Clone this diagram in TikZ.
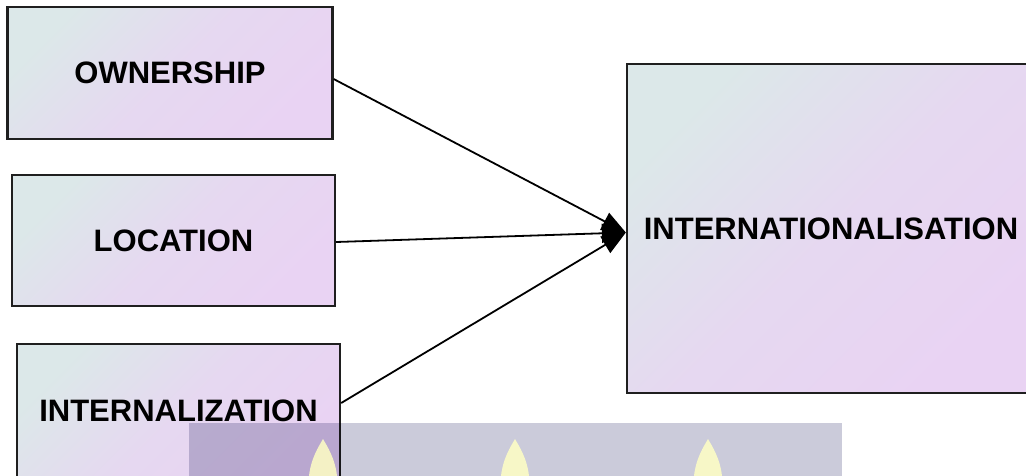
\documentclass[tikz,border=0pt]{standalone}
\usepackage{fontspec}
\setmainfont{Liberation Sans}
\usetikzlibrary{arrows.meta,calc}
\definecolor{shadeA}{HTML}{DCE8E9}
\definecolor{shadeB}{HTML}{E9D3F3}
\definecolor{wmgrey}{HTML}{CBCBDA}
\definecolor{wmflame}{HTML}{FFFFC4}
\tikzset{
  box/.style={draw=black!88, line width=2.3pt, top color=shadeA, bottom color=shadeB,
    middle color=shadeB!75!shadeA, shading angle=45, inner sep=0pt,
    font=\fontsize{31}{36}\selectfont\bfseries},
  conn/.style={draw=black, line width=1.8pt, -{Triangle[length=24pt,width=19pt]}},
}
\begin{document}
\begin{tikzpicture}[x=1pt,y=-1pt]
\useasboundingbox (0,0) rectangle (1026,475);
\node[box, minimum width=325, minimum height=132] (own) at (170,73) {OWNERSHIP};
\node[box, minimum width=323, minimum height=131] (loc) at (173.5,240.5) {LOCATION};
\node[box, minimum width=323, minimum height=134] (inz) at (178.5,411) {INTERNALIZATION};
\node[box, minimum width=408, minimum height=329] (intl) at (831,228.5) {INTERNATIONALISATION};
\coordinate (tip) at ($(intl.west)+(0,4)$);
\draw[conn] ($(own.east)+(0,6)$) -- (tip);
\draw[conn] ($(loc.east)+(0,1.5)$) -- (tip);
\draw[conn] ($(inz.east)+(0,-8)$) -- (tip);
% watermark band
\begin{scope}[blend mode=multiply]
\fill[wmgrey] (189,423) rectangle (842,476);
\end{scope}
\foreach \fx in {323,515,708}{
  \fill[wmflame, opacity=0.85] (\fx-14,476) .. controls (\fx-12,458) and (\fx-4,446) .. (\fx,439)
     .. controls (\fx+4,446) and (\fx+12,458) .. (\fx+14,476) -- cycle;
}
\end{tikzpicture}
\end{document}
